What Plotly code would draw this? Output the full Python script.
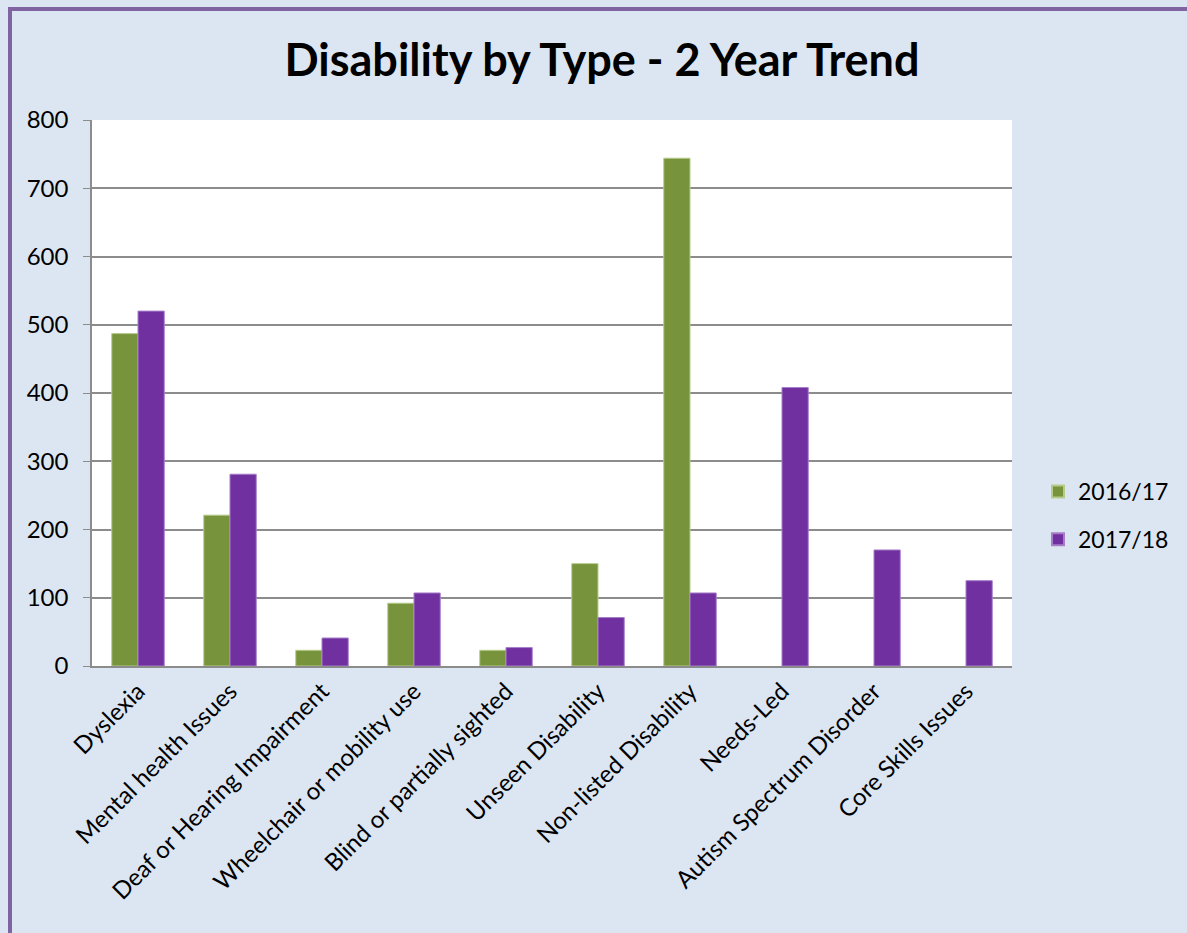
import plotly.graph_objects as go

categories = ["Dyslexia", "Mental health Issues", "Deaf or Hearing Impairment",
              "Wheelchair or mobility use", "Blind or partially sighted",
              "Unseen Disability", "Non-listed Disability", "Needs-Led",
              "Autism Spectrum Disorder", "Core Skills Issues"]
y2016 = [487, 221, 23, 92, 23, 150, 744, None, None, None]
y2017 = [520, 281, 41, 107, 27, 71, 107, 408, 170, 125]
yticks = [0, 100, 200, 300, 400, 500, 600, 700, 800]

W, H = 1187, 933
ml, mr, mt, mb = 92, W - 1012, 120, H - 666
pw, ph = W - ml - mr, H - mt - mb

font = "Lato, Carlito, Calibri, sans-serif"

fig = go.Figure()
fig.add_trace(go.Bar(x=categories, y=y2016, name="2016/17", legendgroup="a",
                     marker=dict(color="#77933C", line=dict(color="#B5CB8A", width=1))))
fig.add_trace(go.Bar(x=categories, y=y2017, name="2017/18", legendgroup="b",
                     marker=dict(color="#7030A0", line=dict(color="#A77CC8", width=1))))


def px(x):
    return (x - ml) / pw


def py(y):
    return (H - mb - y) / ph


fig.add_shape(type="rect", xref="paper", yref="paper",
              x0=px(10), x1=px(W + 40), y0=py(H + 40), y1=py(9),
              line=dict(color="#8064A2", width=4), fillcolor="rgba(0,0,0,0)", layer="above")

fig.update_layout(
    width=W, height=H,
    margin=dict(l=ml, r=mr, t=mt, b=mb, autoexpand=False),
    paper_bgcolor="#DCE6F2", plot_bgcolor="#FFFFFF",
    barmode="group", bargap=0.43, bargroupgap=0,
    title=dict(text="<b>Disability by Type - 2 Year Trend</b>", x=602 / W, xanchor="center",
               y=1 - 60 / H, yanchor="middle",
               font=dict(family=font, size=45, color="#000000")),
    font=dict(family=font, size=24, color="#000000"),
    showlegend=True,
    legend=dict(x=px(1038), xanchor="left", y=py(470), yanchor="top",
                font=dict(size=23), bgcolor="rgba(0,0,0,0)", tracegroupgap=15,
                itemsizing="constant", traceorder="grouped"),
)

fig.update_yaxes(range=[0, 800], tickvals=yticks, showgrid=True, gridcolor="#8C8C8C",
                 gridwidth=1.5, showline=True, linecolor="#8C8C8C", linewidth=1.5,
                 ticks="outside", ticklen=7, tickcolor="#8C8C8C", zeroline=False,
                 tickfont=dict(size=24), ticklabelstandoff=10)
fig.update_xaxes(tickangle=-45, showline=True, linecolor="#8C8C8C", linewidth=1.5,
                 ticks="", tickfont=dict(size=24))

fig.write_html("out.html")
